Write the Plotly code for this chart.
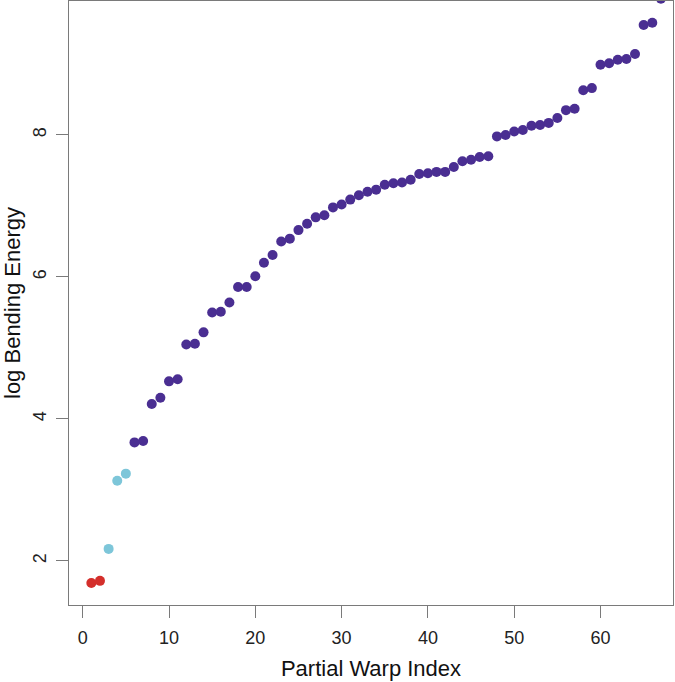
import plotly.graph_objects as go

# Partial warp index 1..67 and log bending energy values
warp_index = list(range(1, 68))
log_energy = [
    1.69, 1.72, 2.17, 3.13, 3.23, 3.67, 3.69, 4.21, 4.30, 4.53,
    4.56, 5.05, 5.06, 5.22, 5.50, 5.51, 5.64, 5.86, 5.86, 6.01,
    6.20, 6.31, 6.50, 6.54, 6.66, 6.75, 6.84, 6.87, 6.98, 7.02,
    7.09, 7.15, 7.20, 7.23, 7.30, 7.32, 7.33, 7.37, 7.45, 7.46,
    7.48, 7.48, 7.55, 7.63, 7.65, 7.69, 7.70, 7.98, 8.00, 8.05,
    8.07, 8.13, 8.14, 8.17, 8.24, 8.35, 8.37, 8.63, 8.66, 8.99,
    9.01, 9.06, 9.07, 9.14, 9.55, 9.58, 9.92,
]
# group of each warp: 0 = red, 1 = light blue, 2 = purple
groups = [0, 0, 1, 1, 1] + [2] * 62
group_colors = ["#D42F2B", "#7DC6D9", "#4A2E92"]
colors = [group_colors[g] for g in groups]

x_ticks = [0, 10, 20, 30, 40, 50, 60]
y_ticks = [2, 4, 6, 8]

fig = go.Figure(go.Scatter(
    x=warp_index, y=log_energy, mode="markers",
    marker=dict(color=colors, size=10, line=dict(width=0)),
    hoverinfo="x+y", cliponaxis=True,
))

axis_common = dict(
    showgrid=False, zeroline=False, showline=True, mirror=True,
    linecolor="#7a7a7a", linewidth=1.2, automargin=False,
    ticks="outside", ticklen=12, tickwidth=1.2, tickcolor="#7a7a7a",
    tickfont=dict(family="Liberation Sans, Arial, sans-serif", size=18, color="#222"),
)

fig.update_layout(
    width=675, height=682,
    margin=dict(l=69, r=2, t=1, b=77, autoexpand=False),
    paper_bgcolor="white", plot_bgcolor="white",
    showlegend=False,
    font=dict(family="Liberation Sans, Arial, sans-serif", color="#111"),
    xaxis=dict(
        range=[-1.59, 68.4], tickvals=x_ticks, ticklabelstandoff=4,
        title=dict(text="Partial Warp Index", font=dict(size=22), standoff=13),
        **axis_common,
    ),
    yaxis=dict(
        range=[1.38, 9.887], tickvals=y_ticks, tickangle=-90, ticklabelstandoff=3,
        title=dict(text="log Bending Energy", font=dict(size=22), standoff=6),
        **axis_common,
    ),
)

fig.write_html(
    "out.html",
    config={"displayModeBar": False},
    post_script="document.body.style.margin='0px';document.body.style.overflow='hidden';",
)
